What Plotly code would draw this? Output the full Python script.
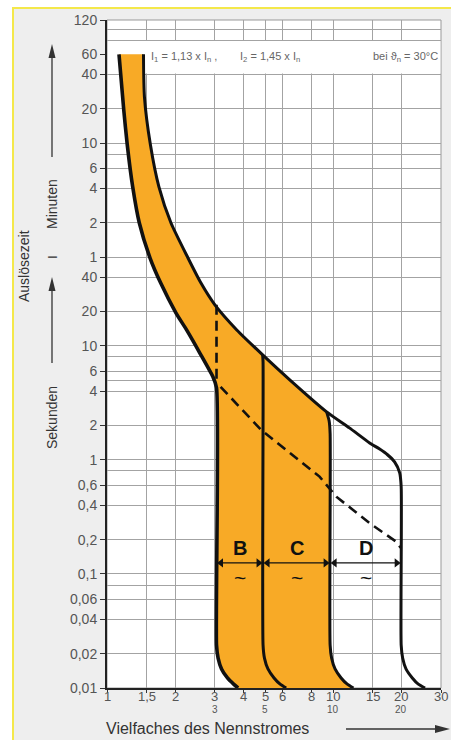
import numpy as np
import plotly.graph_objects as go

# ---------------- data ----------------
# x axis: multiples of rated current
x_tick_vals = [1, 1.5, 2, 3, 4, 5, 6, 8, 10, 15, 20, 30]
x_tick_text = ["1", "1,5", "2", "3", "4", "5", "6", "8", "10", "15", "20", "30"]
x_sub_vals = [3, 5, 10, 20]
x_sub_text = ["3", "5", "10", "20"]

# y axis: tripping time in seconds (labels: minutes above 1 min, seconds below)
y_tick_vals = [7200, 3600, 2400, 1200, 600, 360, 240, 120, 60, 40, 20, 10, 6, 4, 2, 1,
               0.6, 0.4, 0.2, 0.1, 0.06, 0.04, 0.02, 0.01]
y_tick_text = ["120", "60", "40", "20", "10", "6", "4", "2", "1", "40", "20", "10", "6", "4",
               "2", "1", "0,6", "0,4", "0,2", "0,1", "0,06", "0,04", "0,02", "0,01"]
y_extra_grid = [6000, 4800, 480, 8, 5, 0.8, 0.08]

# characteristic band edges (B / C / D)
band_edges = [3.05, 4.9, 9.7, 20.0]
band_names = ["B", "C", "D"]

# lower-left boundary (I1 = 1.13 In) continuing into the B line
i1_x = [1.13, 1.186, 1.229, 1.299, 1.389, 1.549, 1.726, 2.017, 2.249, 2.57, 2.94, 3.05,
        3.05, 3.1, 3.21, 3.41, 3.63, 3.8]
i1_y = [3600, 1175, 580, 248, 120, 59.2, 35.7, 19.5, 13.8, 8.7, 5.35, 4.3,
        0.0238, 0.0183, 0.0147, 0.01224, 0.0108, 0.01]

# upper-right boundary (I2 = 1.45 In) continuing into the D line
i2_x = [1.45, 1.464, 1.556, 1.697, 1.917, 2.279, 2.60, 3.0, 3.75, 4.88, 6.43, 9.36,
        11.8, 14.5, 16.0, 17.4, 18.7, 19.7, 20.0, 20.0, 20.3, 21.0, 22.4, 23.8, 25.5]
i2_y = [3600, 1528, 580, 248, 120, 59.2, 35.7, 22.9, 13.8, 8.34, 5.04, 2.64,
        1.91, 1.41, 1.25, 1.11, 0.96, 0.77, 0.58, 0.0238, 0.0183, 0.0147, 0.01224, 0.0108, 0.01]

# C line (5 In)
c_x = [4.88, 4.9, 4.9, 4.97, 5.15, 5.48, 5.83, 6.2]
c_y = [8.34, 7.2, 0.0238, 0.0183, 0.0147, 0.01224, 0.0108, 0.01]

# C right edge / D left edge (10 In)
cr_x = [9.36, 9.6, 9.7, 9.7, 9.85, 10.2, 10.85, 11.55, 12.3]
cr_y = [2.64, 2.2, 1.7, 0.0238, 0.0183, 0.0147, 0.01224, 0.0108, 0.01]

# dashed lines
dv_x = [3.05, 3.05]
dv_y = [22.9, 4.6]
dd_x = [3.18, 4.81, 8.71, 10.33, 14.5, 19.0, 19.9]
dd_y = [4.37, 1.83, 0.714, 0.476, 0.279, 0.192, 0.17]

# ---------------- layout helpers ----------------
W, H = 451, 740
X0, X1, Y0, Y1 = 107, 441, 20, 688          # plot area in page pixels
L, T, R, B = X0, Y0, W - X1, H - Y1
PW, PH = X1 - X0, Y1 - Y0


def px(xp):
    return (xp - X0) / PW


def py(yp):
    return (Y1 - yp) / PH


def tri(points):
    s = "M %f %f" % (px(points[0][0]), py(points[0][1]))
    for p in points[1:]:
        s += " L %f %f" % (px(p[0]), py(p[1]))
    return s + " Z"


ORANGE = "#F8AA26"
BLACK = "#111111"
GRID = "#a3a3a3"
DARK = "#333333"
LABEL = "#555555"
FONT = "Liberation Sans, Arial, sans-serif"

fig = go.Figure()

# yellow fill: I1 path, along bottom, up the 10-In line, back along I2
upper_i2 = [(x, y) for x, y in zip(i2_x, i2_y) if x <= cr_x[0]]
fill_x = i1_x + cr_x[::-1] + [p[0] for p in upper_i2][::-1]
fill_y = i1_y + cr_y[::-1] + [p[1] for p in upper_i2][::-1]
fig.add_trace(go.Scatter(x=fill_x, y=fill_y, fill="toself", fillcolor=ORANGE, mode="lines",
                         line=dict(width=0, shape="spline", smoothing=0.6), hoverinfo="skip",
                         showlegend=False))

for xs, ys, w in [(i1_x, i1_y, 3.6), (i2_x, i2_y, 3.0), (c_x, c_y, 3.0), (cr_x, cr_y, 3.0)]:
    fig.add_trace(go.Scatter(x=xs, y=ys, mode="lines",
                             line=dict(color=BLACK, width=w, shape="spline", smoothing=0.6),
                             hoverinfo="skip", showlegend=False))
for xs, ys in [(dv_x, dv_y), (dd_x, dd_y)]:
    fig.add_trace(go.Scatter(x=xs, y=ys, mode="lines",
                             line=dict(color=BLACK, width=2.6, dash="10px,6px"),
                             hoverinfo="skip", showlegend=False))

annotations = []
# header texts
hdr_font = dict(size=11, color="#666666", family=FONT)
annotations.append(dict(xref="paper", yref="paper", x=px(149), y=py(57), xanchor="left",
                        yanchor="middle", showarrow=False, font=hdr_font,
                        text="I<sub>1</sub> = 1,13 x I<sub>n</sub> ,"))
annotations.append(dict(xref="paper", yref="paper", x=px(238), y=py(57), xanchor="left",
                        yanchor="middle", showarrow=False, font=hdr_font,
                        text="I<sub>2</sub> = 1,45 x I<sub>n</sub>"))
annotations.append(dict(xref="paper", yref="paper", x=px(440), y=py(57), xanchor="right",
                        yanchor="middle", showarrow=False, font=hdr_font,
                        text="bei ϑ<sub>n</sub> = 30°C"))

# band letters, double arrows, tildes
y_letter, y_arrow, y_tilde = 0.169, 0.125, 0.094
head_off = 10 ** (4.5 / PW * np.log10(30))   # half a marker, in log-x units
for i, name in enumerate(band_names):
    x0, x1 = band_edges[i], band_edges[i + 1]
    xm = np.sqrt(x0 * x1)
    annotations.append(dict(xref="x", yref="y", x=np.log10(xm), y=np.log10(y_letter),
                            xanchor="center", yanchor="middle",
                            showarrow=False, text="<b>%s</b>" % name,
                            font=dict(size=20, color=BLACK, family=FONT)))
    annotations.append(dict(xref="x", yref="y", x=np.log10(xm), y=np.log10(y_tilde),
                            xanchor="center", yanchor="middle",
                            showarrow=False, text="~",
                            font=dict(size=21, color=BLACK, family=FONT)))
    fig.add_trace(go.Scatter(x=[x0 * head_off, x1 / head_off], y=[y_arrow, y_arrow],
                             mode="lines+markers", line=dict(color=BLACK, width=1.2),
                             marker=dict(symbol=["triangle-left", "triangle-right"], size=8,
                                         color=BLACK, line=dict(width=0)),
                             hoverinfo="skip", showlegend=False))

# x tick labels (two rows)
for v, t in zip(x_tick_vals, x_tick_text):
    annotations.append(dict(xref="x", yref="paper", x=np.log10(v), y=py(696),
                            xanchor="center", yanchor="middle", showarrow=False, text=t,
                            font=dict(size=13, color=LABEL, family=FONT)))
for v, t in zip(x_sub_vals, x_sub_text):
    annotations.append(dict(xref="x", yref="paper", x=np.log10(v), y=py(709),
                            xanchor="center", yanchor="middle", showarrow=False, text=t,
                            font=dict(size=10, color=LABEL, family=FONT)))

# axis titles
annotations.append(dict(xref="paper", yref="paper", x=px(104), y=py(728), xanchor="left",
                        yanchor="middle", showarrow=False, text="Vielfaches des Nennstromes",
                        font=dict(size=16, color=DARK, family=FONT)))
for txt, xx, yy, sz in [("Auslösezeit", 24, 266, 14), ("Minuten", 52, 204, 14),
                        ("I", 52, 257, 13), ("Sekunden", 52, 418, 14)]:
    annotations.append(dict(xref="paper", yref="paper", x=px(xx), y=py(yy), showarrow=False,
                            xanchor="center", yanchor="middle", textangle=-90, text=txt,
                            font=dict(size=sz, color=DARK, family=FONT)))

shapes = [
    # white area outside the scanned page frame
    dict(type="rect", xref="paper", yref="paper", x0=-1, x1=px(13), y0=-1, y1=2,
         fillcolor="white", line=dict(width=0), layer="below"),
    dict(type="rect", xref="paper", yref="paper", x0=-1, x1=2, y0=py(8), y1=2,
         fillcolor="white", line=dict(width=0), layer="below"),
    dict(type="rect", xref="paper", yref="paper", x0=px(13), x1=2, y0=-1, y1=py(8),
         fillcolor="rgba(0,0,0,0)", line=dict(color="#f4e84a", width=2), layer="below"),
    # top / right border
    dict(type="rect", xref="paper", yref="paper", x0=0, x1=1, y0=0, y1=1,
         line=dict(color="#999999", width=1), fillcolor="rgba(0,0,0,0)", layer="below"),
    # blank band for the header text
    dict(type="rect", xref="x", yref="y", x0=1.478, x1=29.8, y0=2449, y1=4704,
         fillcolor="white", line=dict(width=0), layer="above"),
    # axis-title arrows (lines + heads)
    dict(type="line", xref="paper", yref="paper", x0=px(52), x1=px(52), y0=py(157), y1=py(56),
         line=dict(color=DARK, width=1.3)),
    dict(type="path", xref="paper", yref="paper", path=tri([(52, 44), (48.5, 58), (55.5, 58)]),
         fillcolor=DARK, line=dict(width=0)),
    dict(type="line", xref="paper", yref="paper", x0=px(52), x1=px(52), y0=py(363), y1=py(288),
         line=dict(color=DARK, width=1.3)),
    dict(type="path", xref="paper", yref="paper", path=tri([(52, 277), (48.5, 291), (55.5, 291)]),
         fillcolor=DARK, line=dict(width=0)),
    dict(type="line", xref="paper", yref="paper", x0=px(346), x1=px(438), y0=py(729), y1=py(729),
         line=dict(color=DARK, width=1.3)),
    dict(type="path", xref="paper", yref="paper", path=tri([(450, 729), (435, 725), (435, 733)]),
         fillcolor=DARK, line=dict(width=0)),
]

grid_y = [v for v in y_tick_vals if v != 3600] + y_extra_grid

fig.update_layout(
    width=W, height=H,
    margin=dict(l=L, r=R, t=T, b=B, autoexpand=False),
    paper_bgcolor="#eeeeee",
    plot_bgcolor="white",
    font=dict(family=FONT, color=LABEL),
    showlegend=False,
    annotations=annotations,
    shapes=shapes,
    xaxis=dict(type="log", range=[0, np.log10(30)], tickmode="array", tickvals=x_tick_vals,
               showticklabels=False, showgrid=True, gridcolor=GRID, gridwidth=1,
               ticks="outside", ticklen=3, tickcolor=DARK, showline=True,
               linecolor="#222222", linewidth=2, zeroline=False, automargin=False),
    yaxis=dict(type="log", range=[-2, np.log10(7200)], tickmode="array", tickvals=y_tick_vals,
               ticktext=y_tick_text, showgrid=False,
               ticks="outside", ticklen=5, tickcolor=DARK, showline=True,
               linecolor="#222222", linewidth=2, zeroline=False, automargin=False,
               tickfont=dict(size=14, color=LABEL),
               minor=dict(tickmode="array", tickvals=grid_y, showgrid=True,
                          gridcolor=GRID, gridwidth=1, ticks="")),
)

fig.write_html(
    "out.html",
    config={"displayModeBar": False},
    post_script="document.body.style.margin='0px';"
                "document.body.style.overflow='hidden';"
                "document.documentElement.style.overflow='hidden';",
)
